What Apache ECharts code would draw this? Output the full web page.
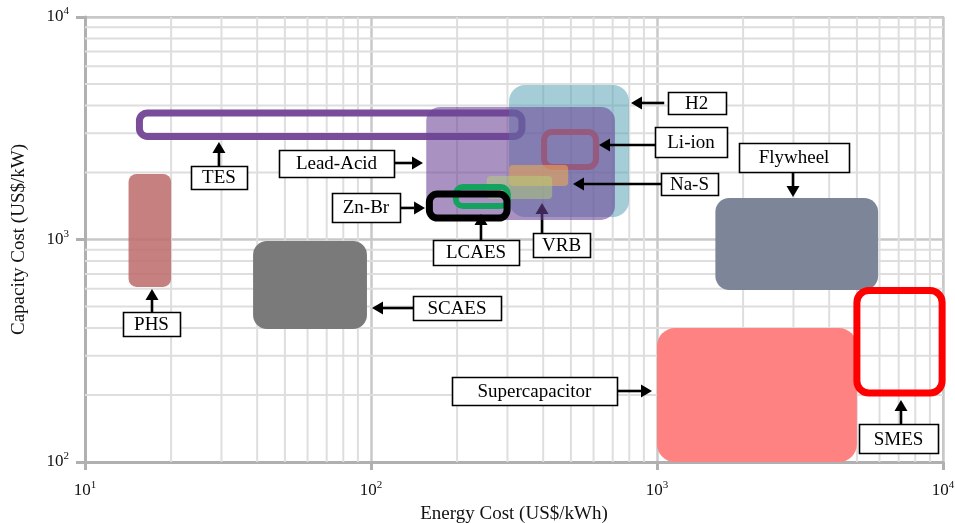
<!DOCTYPE html>
<html>
<head>
<meta charset="utf-8">
<script src="https://cdn.jsdelivr.net/npm/echarts@6/dist/echarts.min.js"></script>
<style>
  html, body { margin: 0; padding: 0; background: #fff; }
  #chart { width: 955px; height: 523px; }
</style>
</head>
<body>
<div id="chart"></div>
<script>
// Storage technologies: energy cost range (US$/kWh) and capacity cost range (US$/kW)
const technologies     = ['PHS', 'SCAES', 'TES', 'H2', 'Lead-Acid', 'Li-ion', 'Na-S', 'VRB', 'LCAES', 'Zn-Br', 'Flywheel', 'Supercapacitor', 'SMES'];
const energyCostLow    = [14.2, 38.7, 15.5, 304, 156, 403, 304, 254, 198, 160, 1600, 1000, 5000];
const energyCostHigh   = [20, 96.8, 337, 798, 713, 612, 489, 430, 301, 299, 5930, 5000, 9930];
const capacityCostLow  = [612, 396, 2904, 1262, 1224, 2118, 1740, 1520, 1415, 1249, 593, 100, 204];
const capacityCostHigh = [1969, 985, 3703, 4946, 3940, 3041, 2162, 1929, 1722, 1601, 1537, 400, 590];

// Axis ranges and decade tick labels
const energyAxisRange   = [10, 10000];
const capacityAxisRange = [100, 10000];
const energyDecades     = [1, 2, 3, 4];
const capacityDecades   = [2, 3, 4];

const FONT = '"Liberation Serif", "Times New Roman", serif';

// Appearance of each technology region
const boxStyles = {
  'PHS':            { fill: 'rgba(190,110,110,0.88)', r: 8,  layer: 'front' },
  'SCAES':          { fill: '#7a7a7a', r: 14, layer: 'front' },
  'TES':            { stroke: '#7a4d9a', lineWidth: 7, r: 8, layer: 'back' },
  'H2':             { fill: 'rgba(91,164,182,0.55)', r: 16, layer: 'back' },
  'Lead-Acid':      { fill: 'rgba(106,68,150,0.58)', r: 14, layer: 'front' },
  'Li-ion':         { stroke: '#955a7e', lineWidth: 6, r: 8, layer: 'front' },
  'Na-S':           { fill: 'rgba(240,168,85,0.58)', r: 4, layer: 'front' },
  'VRB':            { fill: 'rgba(180,210,120,0.5)', r: 4, layer: 'front' },
  'LCAES':          { stroke: '#13a35e', lineWidth: 6, r: 7, layer: 'front' },
  'Zn-Br':          { stroke: '#000000', lineWidth: 7, r: 8, layer: 'front' },
  'Flywheel':       { fill: '#7d8598', r: 14, layer: 'front' },
  'Supercapacitor': { fill: '#ff8282', r: 18, layer: 'front' },
  'SMES':           { stroke: '#ff0000', lineWidth: 7, r: 12, layer: 'front' }
};

// Callout boxes: label centre, arrow tail and arrow tip in axis units; box size in px
const callouts = [
  { text: 'H2',             at: [1375, 4108],  from: [1060, 4108],  to: [811, 4108],   size: [58, 22] },
  { text: 'Li-ion',         at: [1315, 2743],  from: [984, 2659],   to: [627, 2659],   size: [72, 30] },
  { text: 'Na-S',           at: [1299, 1776],  from: [1033, 1776],  to: [508.5, 1776], size: [57, 22] },
  { text: 'Flywheel',       at: [3013, 2336],  from: [2989, 2011],  to: [2989, 1552],  size: [110, 29] },
  { text: 'Lead-Acid',      at: [75.75, 2196], from: [120.3, 2207], to: [152, 2207],   size: [115, 27] },
  { text: 'TES',            at: [29.4, 1900],  from: [29.4, 2140],  to: [29.4, 2743],  size: [56, 23] },
  { text: 'Zn-Br',          at: [96, 1393],    from: [126.3, 1386], to: [154.5, 1386], size: [68, 29] },
  { text: 'LCAES',          at: [232.9, 874],  from: [242.4, 995],  to: [242.4, 1302], size: [86, 25] },
  { text: 'VRB',            at: [463.6, 945],  from: [396.2, 1070], to: [396.2, 1459], size: [57, 24], under: true },
  { text: 'PHS',            at: [17.08, 417],  from: [17.15, 472],  to: [17.15, 599],  size: [57, 24] },
  { text: 'SCAES',          at: [199.8, 492],  from: [140.3, 492],  to: [100.8, 492],  size: [88, 24] },
  { text: 'Supercapacitor', at: [372.9, 208.5],from: [724.8, 208.5],to: [960.5, 208.5],size: [165, 28] },
  { text: 'SMES',           at: [6989, 127.5], from: [7130, 148.2], to: [7130, 190],   size: [79, 29] }
];

// Minor grid values (2..9 within each decade)
function minorValues(decades) {
  const out = [];
  for (let i = 0; i < decades.length - 1; i++) {
    const base = Math.pow(10, decades[i]);
    for (let m = 2; m <= 9; m++) out.push(m * base);
  }
  return out;
}
const gridData = [];
minorValues(energyDecades).forEach(v => gridData.push([v, 1000, 0]));
minorValues(capacityDecades).forEach(v => gridData.push([100, v, 1]));

function renderGrid(params, api) {
  const cs = params.coordSys;
  const dir = api.value(2);
  const p = api.coord([api.value(0), api.value(1)]);
  const shape = dir === 0
    ? { x1: p[0], y1: cs.y, x2: p[0], y2: cs.y + cs.height }
    : { x1: cs.x, y1: p[1], x2: cs.x + cs.width, y2: p[1] };
  return { type: 'line', shape: shape, style: { stroke: '#dedede', lineWidth: 2 } };
}

function boxData(layer) {
  const out = [];
  technologies.forEach((name, i) => {
    if (boxStyles[name].layer === layer) {
      out.push([energyCostLow[i], energyCostHigh[i], capacityCostLow[i], capacityCostHigh[i], i]);
    }
  });
  return out;
}

function renderBox(params, api) {
  const s = boxStyles[technologies[api.value(4)]];
  const p0 = api.coord([api.value(0), api.value(3)]);
  const p1 = api.coord([api.value(1), api.value(2)]);
  const style = s.stroke
    ? { fill: 'none', stroke: s.stroke, lineWidth: s.lineWidth }
    : { fill: s.fill };
  return {
    type: 'rect',
    shape: { x: p0[0], y: p0[1], width: p1[0] - p0[0], height: p1[1] - p0[1], r: s.r },
    style: style
  };
}

function calloutData(under) {
  const out = [];
  callouts.forEach((c, i) => {
    if (!!c.under === under) out.push([c.at[0], c.at[1], i]);
  });
  return out;
}

function renderCallout(params, api) {
  const c = callouts[api.value(2)];
  const centre = api.coord(c.at);
  const from = api.coord(c.from);
  const to = api.coord(c.to);
  const dx = to[0] - from[0], dy = to[1] - from[1];
  const len = Math.sqrt(dx * dx + dy * dy) || 1;
  const ux = dx / len, uy = dy / len;
  const head = 11, half = 6.5;
  const bx = to[0] - ux * head, by = to[1] - uy * head;
  const w = c.size[0], h = c.size[1];
  return {
    type: 'group',
    children: [
      { type: 'line', shape: { x1: from[0], y1: from[1], x2: bx, y2: by },
        style: { stroke: '#000', lineWidth: 2.6 } },
      { type: 'polygon',
        shape: { points: [[to[0], to[1]], [bx - uy * half, by + ux * half], [bx + uy * half, by - ux * half]] },
        style: { fill: '#000' } },
      { type: 'rect',
        shape: { x: Math.round(centre[0] - w / 2) + 0.5, y: Math.round(centre[1] - h / 2) + 0.5, width: w, height: h },
        style: { fill: '#fff', stroke: '#000', lineWidth: 1.6 } },
      { type: 'text',
        style: { x: centre[0], y: centre[1] + 1, text: c.text, fill: '#000',
                 font: '19px ' + FONT, align: 'center', verticalAlign: 'middle' } }
    ]
  };
}

const tickLabel = v => '{b|10}{s|' + Math.round(Math.log10(v)) + '}';
const tickRich = {
  b: { fontFamily: FONT, fontSize: 17, color: '#111', lineHeight: 22 },
  s: { fontFamily: FONT, fontSize: 11, color: '#111', verticalAlign: 'top', lineHeight: 22, padding: [0, 0, 8, 0] }
};

const chart = echarts.init(document.getElementById('chart'), null, { renderer: 'canvas' });
chart.setOption({
  animation: false,
  backgroundColor: '#fff',
  grid: { left: 85, right: 12, top: 17, bottom: 61, show: true, borderColor: '#c4c4c4', borderWidth: 2,
          containLabel: false, outerBoundsMode: 'none' },
  xAxis: {
    type: 'log', logBase: 10,
    min: energyAxisRange[0], max: energyAxisRange[1],
    name: 'Energy Cost (US$/kWh)', nameLocation: 'middle', nameGap: 42,
    nameTextStyle: { fontFamily: FONT, fontSize: 19, color: '#111' },
    axisLine: { show: true, lineStyle: { color: '#b0b0b0', width: 3 } },
    axisTick: { show: true, length: 8, lineStyle: { color: '#b0b0b0', width: 3 } },
    axisLabel: { formatter: tickLabel, rich: tickRich, margin: 18 },
    splitLine: { show: true, lineStyle: { color: '#c8c8c8', width: 2.5 } },
    minorTick: { show: false }, minorSplitLine: { show: false }
  },
  yAxis: {
    type: 'log', logBase: 10,
    min: capacityAxisRange[0], max: capacityAxisRange[1],
    name: 'Capacity Cost (US$/kW)', nameLocation: 'middle', nameGap: 56,
    nameTextStyle: { fontFamily: FONT, fontSize: 19, color: '#111' },
    axisLine: { show: true, lineStyle: { color: '#b0b0b0', width: 3 } },
    axisTick: { show: true, length: 9, lineStyle: { color: '#b0b0b0', width: 3 } },
    axisLabel: { formatter: tickLabel, rich: tickRich, margin: 16 },
    splitLine: { show: true, lineStyle: { color: '#c8c8c8', width: 2.5 } },
    minorTick: { show: false }, minorSplitLine: { show: false }
  },
  series: [
    { type: 'custom', name: 'grid', z: 1, silent: true, renderItem: renderGrid,
      encode: { x: 0, y: 1 }, data: gridData },
    { type: 'custom', name: 'regions-back', z: 2, renderItem: renderBox,
      encode: { x: [0, 1], y: [2, 3] }, data: boxData('back') },
    { type: 'custom', name: 'callouts-under', z: 3, renderItem: renderCallout,
      encode: { x: 0, y: 1 }, data: calloutData(true) },
    { type: 'custom', name: 'regions-front', z: 4, renderItem: renderBox,
      encode: { x: [0, 1], y: [2, 3] }, data: boxData('front') },
    { type: 'custom', name: 'callouts', z: 5, renderItem: renderCallout,
      encode: { x: 0, y: 1 }, data: calloutData(false) }
  ]
});
</script>
</body>
</html>
